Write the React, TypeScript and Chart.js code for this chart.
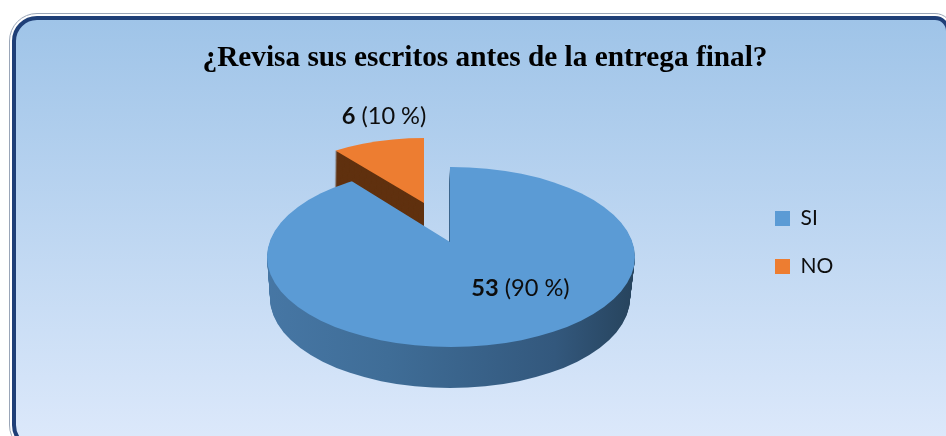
import React, { useEffect, useRef } from "react";
import { Chart, registerables } from "chart.js";

Chart.register(...registerables);

const titleText = "¿Revisa sus escritos antes de la entrega final?";
const categories = ["SI", "NO"];
const values = [53, 6];
const faceColors = ["#5b9bd5", "#ed7d31"];

const LABEL_FONT = "Lato";
const LABEL_SIZE = 23.6;

// Drawing settings for the tilted pie: wedge apex, visible rim ellipse, depth.
const tilt = [
  { apexX: 450, apexY: 242, cx: 451, cy: 257, rx: 184, ry: 90, squash: 0.46, depth: 41, endRx: 180, shiftX: -1 },
  { apexX: 424, apexY: 203, cx: 424.5, cy: 214, rx: 161, ry: 76, squash: 0.44, depth: 38, endRx: 159, shiftX: -1 },
];
const labelAnchors = [
  { x: 520.5, y: 288 },
  { x: 384, y: 116 },
];

function drawSlice(ctx: CanvasRenderingContext2D, arc: any, t: any, fill: any, d: number) {
  const f = t.depth ? d / t.depth : 0;
  const rx = t.rx + (t.endRx - t.rx) * f;
  const sx = t.shiftX * f;
  const k = 420 / arc.outerRadius;
  const ghost = Object.create(arc);
  ghost.options = { ...arc.options, backgroundColor: fill, borderWidth: 0 };
  ctx.save();
  ctx.beginPath();
  ctx.ellipse(t.cx + sx, t.cy + d, rx, t.ry, 0, 0, Math.PI * 2);
  ctx.clip();
  ctx.translate(t.apexX + sx, t.apexY + d);
  ctx.scale(k, k * t.squash);
  ctx.translate(-arc.x, -arc.y);
  arc.constructor.prototype.draw.call(ghost, ctx);
  ctx.restore();
}

function drawLabels(ctx: CanvasRenderingContext2D) {
  const total = values.reduce((a, b) => a + b, 0);
  ctx.save();
  ctx.fillStyle = "#0d0d0d";
  ctx.textBaseline = "middle";
  ctx.textAlign = "left";
  values.forEach((v, i) => {
    const bold = String(v);
    const rest = ` (${Math.round((v / total) * 100)} %)`;
    ctx.font = `bold ${LABEL_SIZE}px ${LABEL_FONT}`;
    const bw = ctx.measureText(bold).width;
    ctx.font = `${LABEL_SIZE}px ${LABEL_FONT}`;
    const rw = ctx.measureText(rest).width;
    const x = labelAnchors[i].x - (bw + rw) / 2;
    ctx.font = `bold ${LABEL_SIZE}px ${LABEL_FONT}`;
    ctx.fillText(bold, x, labelAnchors[i].y);
    ctx.font = `${LABEL_SIZE}px ${LABEL_FONT}`;
    ctx.fillText(rest, x + bw, labelAnchors[i].y);
  });
  ctx.restore();
}

const tiltedPie = {
  id: "tiltedPie",
  afterLayout(chart: any) {
    const legend = chart.legend;
    const w = legend.width;
    legend.left = 748;
    legend.right = 748 + w;
    const h = legend.height;
    legend.top = 181;
    legend.bottom = 181 + h;
    const title = chart.titleBlock;
    title.left = 24;
    title.right = 946;
  },
  beforeDatasetsDraw(chart: any) {
    const ctx: CanvasRenderingContext2D = chart.ctx;
    const arcs = chart.getDatasetMeta(0).data;
    const wallBlue = ctx.createLinearGradient(267, 0, 635, 0);
    wallBlue.addColorStop(0, "#5286ba");
    wallBlue.addColorStop(0.36, "#3f6d97");
    wallBlue.addColorStop(0.55, "#33587d");
    wallBlue.addColorStop(0.66, "#243f56");
    wallBlue.addColorStop(1, "#233d54");
    const walls = [wallBlue, "#60310f"];
    // The smaller, pulled-out slice sits behind the large one.
    [1, 0].forEach((i) => {
      const t = tilt[i];
      for (let d = t.depth; d >= 1; d--) drawSlice(ctx, arcs[i], t, walls[i], d);
      drawSlice(ctx, arcs[i], t, faceColors[i], 0);
    });
    drawLabels(ctx);
    return false;
  },
};

export default function App() {
  const ref = useRef<HTMLCanvasElement>(null);
  useEffect(() => {
    const chart = new Chart(ref.current!, {
      type: "pie",
      data: {
        labels: categories,
        datasets: [{ data: values, backgroundColor: faceColors, borderWidth: 0 }],
      },
      options: {
        responsive: false,
        animation: false,
        layout: { padding: 0 },
        plugins: {
          title: {
            display: true,
            text: titleText,
            color: "#000000",
            font: { family: "Liberation Serif", size: 29.3, weight: "bold" },
            padding: { top: 41, bottom: 8 },
          },
          legend: {
            position: "right",
            align: "start",
            labels: {
              boxWidth: 15,
              boxHeight: 15,
              padding: 27,
              color: "#0d0d0d",
              font: { family: LABEL_FONT, size: 21 },
            },
          },
          tooltip: { enabled: false },
        },
      } as any,
      plugins: [tiltedPie],
    });
    return () => chart.destroy();
  }, []);

  return (
    <div style={{ position: "fixed", left: 0, top: 0, width: 946, height: 436, overflow: "hidden", background: "#fff" }}>
      <div
        style={{
          position: "absolute",
          left: 9,
          top: 13,
          width: 944,
          height: 440,
          boxSizing: "border-box",
          border: "1px solid #9aa6b8",
          padding: 2,
          background: "#fff",
          borderRadius: "28px 18px 0 28px",
        }}
      >
        <div
          style={{
            width: "100%",
            height: "100%",
            boxSizing: "border-box",
            border: "4px solid #1f3f77",
            borderRadius: "25px 15px 0 25px",
            background: "linear-gradient(180deg, #9fc4e8 0%, #dde9fb 100%)",
          }}
        />
      </div>
      <canvas ref={ref} width={946} height={436} style={{ position: "absolute", left: 0, top: 0 }} />
    </div>
  );
}
